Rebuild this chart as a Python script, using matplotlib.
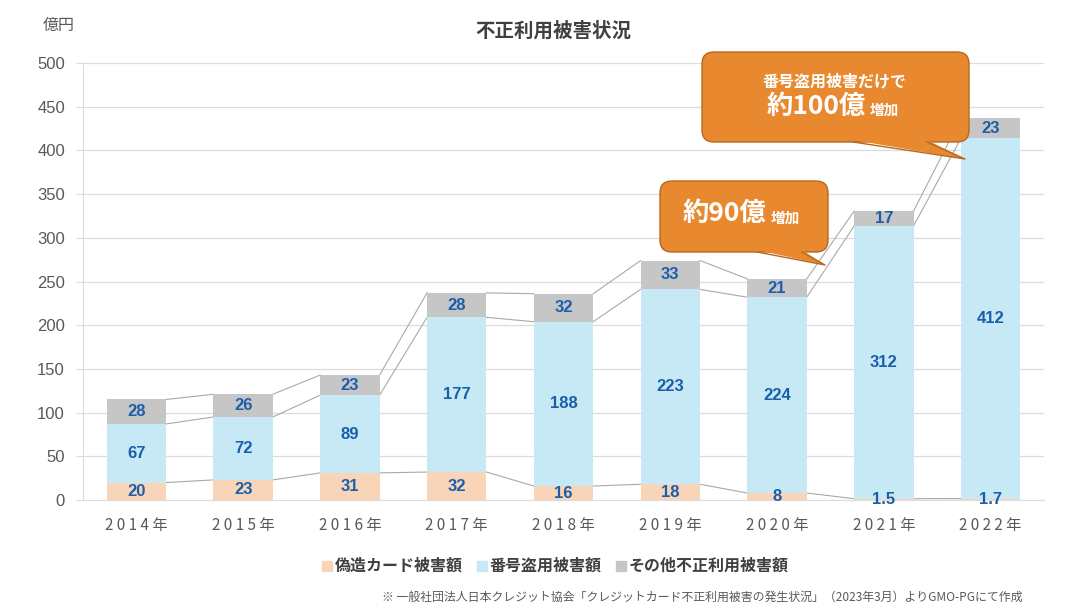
import matplotlib

matplotlib.use("Agg")
import matplotlib.pyplot as plt
import matplotlib.transforms as mtransforms
from matplotlib.patches import FancyBboxPatch, Polygon, Rectangle
import numpy as np

plt.rcParams["font.family"] = ["Noto Sans CJK JP", "DejaVu Sans"]

years = ["2014年", "2015年", "2016年", "2017年", "2018年", "2019年", "2020年", "2021年", "2022年"]
forgery = [20, 23, 31, 32, 16, 18, 8, 1.5, 1.7]
theft = [67, 72, 89, 177, 188, 223, 224, 312, 412]
other = [28, 26, 23, 28, 32, 33, 21, 17, 23]
series_names = ["偽造カード被害額", "番号盗用被害額", "その他不正利用被害額"]
colors = ["#F8D5B9", "#C6E9F5", "#C6C6C6"]
label_color = "#1A5FAA"
W, H = 1087, 611
num_font = ["Liberation Sans", "DejaVu Sans"]

fig = plt.figure(figsize=(W / 100, H / 100), dpi=100)
ax = fig.add_axes([83 / W, 1 - 500 / H, (1044 - 83) / W, (500 - 63) / H])

x = np.arange(len(years))
bw = 0.556
data = [forgery, theft, other]
bottom = np.zeros(len(years))
tops = []
for vals, col in zip(data, colors):
    vals = np.array(vals, dtype=float)
    ax.bar(x, vals, bw, bottom=bottom, color=col, zorder=3)
    for xi, b, v in zip(x, bottom, vals):
        ax.text(xi, b + v / 2, f"{v:g}", ha="center", va="center", fontsize=12,
                fontweight="bold", color=label_color, zorder=5, family=num_font)
    bottom = bottom + vals
    tops.append(bottom.copy())

# series lines between bars
for t in tops:
    for i in range(len(years) - 1):
        ax.plot([x[i] + bw / 2, x[i + 1] - bw / 2], [t[i], t[i + 1]],
                color="#A9A9A9", lw=0.8, zorder=2)

ax.set_xlim(-0.5, len(years) - 0.5)
ax.set_ylim(0, 500)
ax.set_yticks(range(0, 501, 50))
ax.yaxis.grid(True, color="#DCDCDC", lw=0.9, zorder=0)
ax.set_axisbelow(True)
for s in ["top", "right"]:
    ax.spines[s].set_visible(False)
for s in ["left", "bottom"]:
    ax.spines[s].set_color("#DCDCDC")
ax.tick_params(axis="y", length=5, color="#DCDCDC", labelsize=12,
               labelcolor="#595959", pad=8)
ax.tick_params(axis="x", length=0, labelsize=11, labelcolor="#595959", pad=12)
for lab in ax.get_yticklabels():
    lab.set_family(num_font)
ax.set_xticks(x)
ax.set_xticklabels([" ".join(y[:4]) + " " + y[4:] for y in years])

fig.text(553 / W, 1 - 31 / H, "不正利用被害状況", ha="center", va="center",
         fontsize=14, fontweight="bold", color="#404040")
fig.text(59 / W, 1 - 25 / H, "億円", ha="center", va="center",
         fontsize=11.5, color="#595959")

# legend
leg_items = [(322, series_names[0]), (477, series_names[1]), (616, series_names[2])]
for (lx, name), col in zip(leg_items, colors):
    fig.patches.append(Rectangle((lx / W, 1 - 571 / H), 10 / W, 10 / H,
                                 transform=fig.transFigure, color=col))
    fig.text((lx + 13) / W, 1 - 566 / H, name, ha="left", va="center",
             fontsize=11.5, fontweight="bold", color="#404040")

fig.text(1022 / W, 1 - 597 / H,
         "※ 一般社団法人日本クレジット協会「クレジットカード不正利用被害の発生状況」（2023年3月）よりGMO-PGにて作成",
         ha="right", va="center", fontsize=8.6, color="#595959")

# callouts in pixel coords
px = mtransforms.Affine2D().scale(1 / W, -1 / H).translate(0, 1) + fig.transFigure
orange = "#E8892F"
edge = "#B5691F"


def callout(x0, y0, x1, y1, base, tip):
    box = FancyBboxPatch((x0, y0), x1 - x0, y1 - y0,
                         boxstyle="round,pad=0,rounding_size=12",
                         transform=px, facecolor=orange, edgecolor=edge, lw=1,
                         zorder=10)
    fig.patches.append(box)
    tail = Polygon([(base[0], y1 - 2), (base[1], y1 - 2), tip], closed=True,
                   transform=px, facecolor=orange, edgecolor="none", zorder=11)
    fig.patches.append(tail)
    fig.lines.append(plt.Line2D([base[0], tip[0], base[1]], [y1, tip[1], y1],
                                transform=px, color=edge, lw=1, zorder=12))


callout(660, 181, 828, 252, (757, 802), (825, 265))
callout(702, 52, 969, 142, (853, 927), (965, 159))

fig.text(724 / W, 1 - 213 / H, "約90億", ha="center", va="center",
         fontsize=19, fontweight="bold", color="white", zorder=20)
fig.text(771 / W, 1 - 218 / H, "増加", ha="left", va="center",
         fontsize=10.5, fontweight="bold", color="white", zorder=20)
fig.text(835 / W, 1 - 81 / H, "番号盗用被害だけで", ha="center", va="center",
         fontsize=11.5, fontweight="bold", color="white", zorder=20)
fig.text(816 / W, 1 - 106 / H, "約100億", ha="center", va="center",
         fontsize=19, fontweight="bold", color="white", zorder=20)
fig.text(870 / W, 1 - 110 / H, "増加", ha="left", va="center",
         fontsize=10.5, fontweight="bold", color="white", zorder=20)

fig.savefig("out.png", dpi=100)
